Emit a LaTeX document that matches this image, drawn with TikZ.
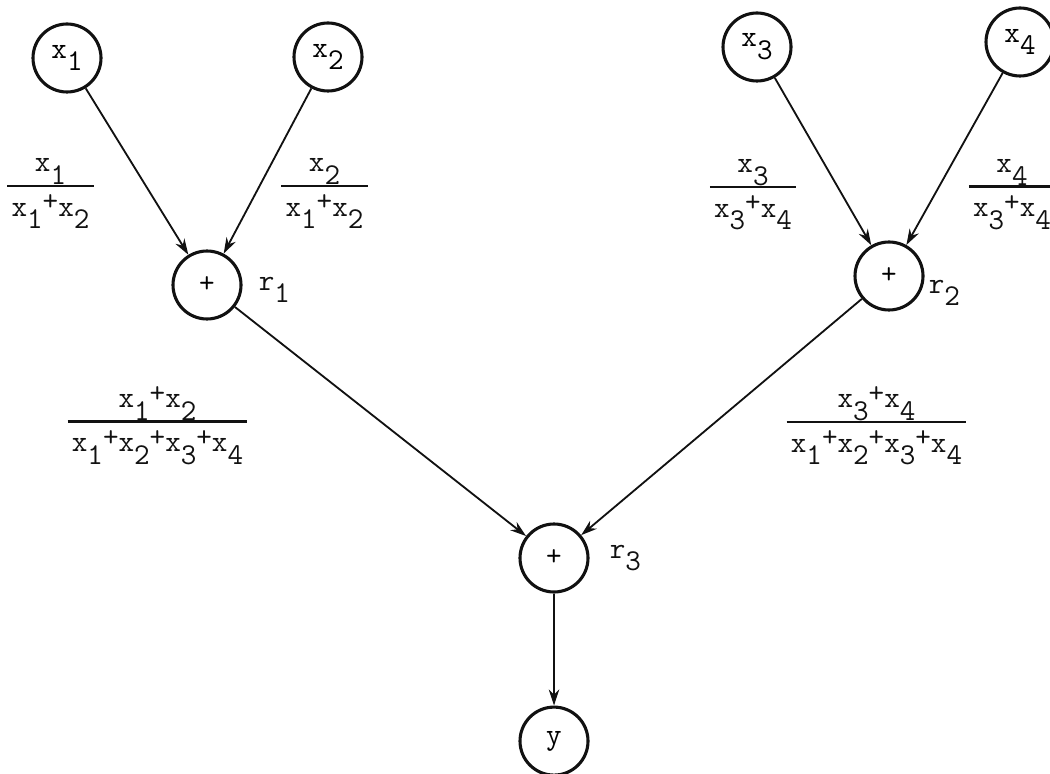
\documentclass[tikz,border=0pt]{standalone}
\usepackage{xcolor}
\definecolor{inkDark}{HTML}{111111}
\usepackage{tikz}
\usetikzlibrary{shapes,arrows,positioning,calc,arrows.meta}
\setlength{\arrayrulewidth}{2pt}
\newcommand{\xsub}[1]{x\raisebox{-0.42em}{#1}}
\newcommand{\tplus}{\raisebox{0.18em}{+}}
\newcommand{\frc}[2]{\begin{tabular}{@{\hspace{3pt}}c@{\hspace{3pt}}}#1\\[1pt]\hline\rule{0pt}{0.95em}#2\end{tabular}}
\tikzset{%
  typeFont/.style={%
    font=\fontsize{21.5}{25}\selectfont\ttfamily
  },
  varNode/.style={%
    circle,
    draw=inkDark,
    line width=2.2pt,
    minimum size=1.7cm,
    inner sep=0pt,
    typeFont
  },
  arrowLine/.style={%
    -{Stealth[length=4mm,width=2.6mm]},
    line width=1.3pt,
    color=inkDark
  },
  fracLabel/.style={%
    inner sep=0pt,
    text=inkDark,
    typeFont
  },
  rLabel/.style={%
    inner sep=0pt,
    text=inkDark,
    typeFont
  }
}

\begin{document}
\begin{tikzpicture}
  \useasboundingbox (0,0) rectangle (26.25,-19.35);

  % inputs
  \node[varNode] (x1) at (1.675,-1.45) {\xsub{1}};
  \node[varNode] (x2) at (8.2,-1.425) {\xsub{2}};
  \node[varNode] (x3) at (18.925,-1.175) {\xsub{3}};
  \node[varNode] (x4) at (25.5,-1.05) {\xsub{4}};

  % summing nodes
  \node[varNode] (r1) at (5.175,-7.125) {+};
  \node[varNode] (r2) at (22.225,-6.9) {+};
  \node[varNode] (r3) at (13.85,-13.95) {+};
  \node[varNode, below=2.8cm of r3] (y) {y};

  \node[rLabel, right=0.4cm of r1, yshift=-0.125cm] (lr1) {r\raisebox{-0.42em}{1}};
  \node[rLabel, right=0.1cm of r2, yshift=-0.425cm] (lr2) {r\raisebox{-0.42em}{2}};
  \node[rLabel, right=0.5cm of r3] (lr3) {r\raisebox{-0.42em}{3}};

  % weights
  \node[fracLabel] (w1) at (1.2625,-4.7) {\frc{\xsub{1}}{\xsub{1}\tplus\xsub{2}}};
  \node[fracLabel] (w2) at (8.1125,-4.7) {\frc{\xsub{2}}{\xsub{1}\tplus\xsub{2}}};
  \node[fracLabel] (w3) at (18.825,-4.725) {\frc{\xsub{3}}{\xsub{3}\tplus\xsub{4}}};
  \node[fracLabel] (w4) at (25.3,-4.725) {\frc{\xsub{4}}{\xsub{3}\tplus\xsub{4}}};
  \node[fracLabel] (w5) at (3.9375,-10.6) {\frc{\xsub{1}\tplus\xsub{2}}{\xsub{1}\tplus\xsub{2}\tplus\xsub{3}\tplus\xsub{4}}};
  \node[fracLabel] (w6) at (21.9125,-10.6) {\frc{\xsub{3}\tplus\xsub{4}}{\xsub{1}\tplus\xsub{2}\tplus\xsub{3}\tplus\xsub{4}}};

  \draw[arrowLine] (x1) -- (r1);
  \draw[arrowLine] (x2) -- (r1);
  \draw[arrowLine] (x3) -- (r2);
  \draw[arrowLine] (x4) -- (r2);
  \draw[arrowLine] (r1) -- (r3);
  \draw[arrowLine] (r2) -- (r3);
  \draw[arrowLine] (r3) -- (y);
\end{tikzpicture}
\end{document}
